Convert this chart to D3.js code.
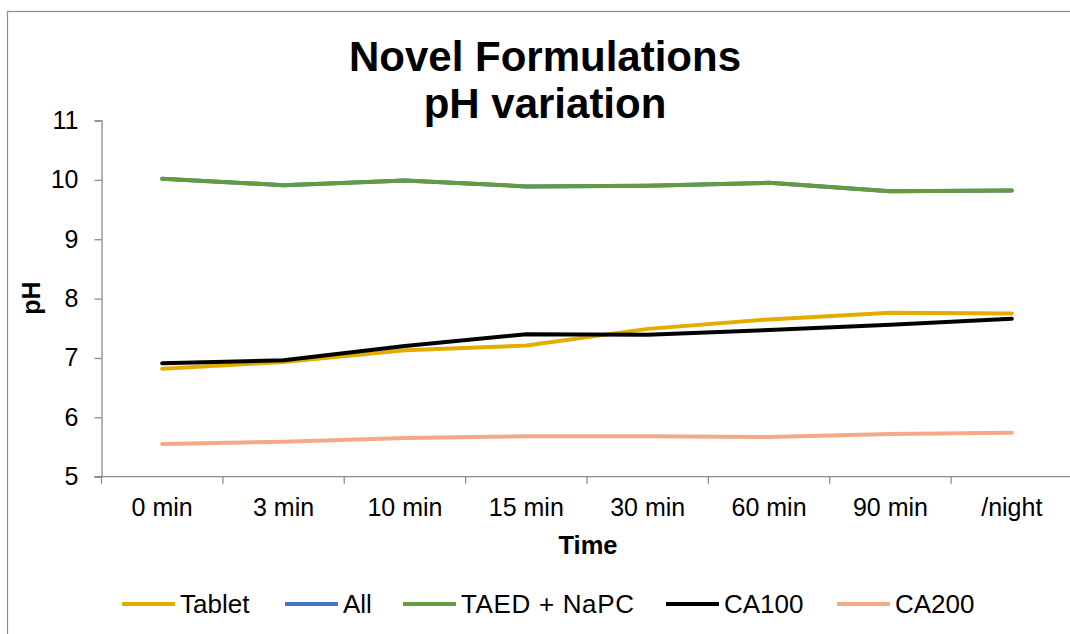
<!DOCTYPE html>
<html>
<head>
<meta charset="utf-8">
<script src="https://cdn.jsdelivr.net/npm/d3@7"></script>
<style>
  html, body { margin: 0; padding: 0; background: #fff; }
  svg { display: block; font-family: Arial, "Liberation Sans", sans-serif; }
</style>
</head>
<body>
<svg id="chart" width="1070" height="634"></svg>
<script>
// Sampling times
const categories = ["0 min", "3 min", "10 min", "15 min", "30 min", "60 min", "90 min", "/night"];

// pH readings per formulation
const tablet  = [6.82, 6.93, 7.13, 7.21, 7.49, 7.65, 7.76, 7.75];
const all     = [10.02, 9.91, 9.99, 9.89, 9.90, 9.95, 9.81, 9.82];
const taedNapc = [10.02, 9.91, 9.99, 9.89, 9.90, 9.95, 9.81, 9.82];
const ca100   = [6.91, 6.96, 7.20, 7.40, 7.39, 7.47, 7.56, 7.66];
const ca200   = [5.55, 5.59, 5.65, 5.68, 5.68, 5.67, 5.72, 5.74];

const seriesNames = ["Tablet", "All", "TAED + NaPC", "CA100", "CA200"];
const seriesValues = [tablet, all, taedNapc, ca100, ca200];
const seriesColors = ["#E5AC00", "#4472C4", "#639C3F", "#000000", "#F3A98A"];

const yTicks = [5, 6, 7, 8, 9, 10, 11];

const svg = d3.select("#chart");
const axisColor = "#8c8c8c";

// Outer chart frame
svg.append("rect")
  .attr("x", 7.5).attr("y", 11.5)
  .attr("width", 1090).attr("height", 650)
  .attr("fill", "none").attr("stroke", "#8c8c8c").attr("stroke-width", 1.2);

const plot = { left: 101.5, right: 1072.5, top: 120.5, bottom: 476.7 };

const x = d3.scaleBand().domain(categories).range([plot.left, plot.right]).padding(0);
const y = d3.scaleLinear().domain([5, 11]).range([plot.bottom, plot.top]);

// Title
const title = svg.append("text")
  .attr("x", 545).attr("text-anchor", "middle")
  .attr("font-weight", "bold").attr("font-size", 42).attr("fill", "#000");
title.append("tspan").attr("x", 545).attr("y", 71).text("Novel Formulations");
title.append("tspan").attr("x", 545).attr("y", 118).text("pH variation");

// Y axis
const yAxis = svg.append("g")
  .attr("transform", `translate(${plot.left},0)`)
  .call(d3.axisLeft(y).tickValues(yTicks).tickSize(7).tickPadding(16).tickFormat(d3.format("d")));
yAxis.select(".domain").attr("stroke", axisColor).attr("stroke-width", 1.3);
yAxis.selectAll(".tick line").attr("stroke", axisColor).attr("stroke-width", 1.3);
yAxis.selectAll(".tick text").attr("font-size", 25).attr("fill", "#000")
  .attr("font-family", "Arial, 'Liberation Sans', sans-serif");

// X axis with ticks on category boundaries
const xAxisG = svg.append("g").attr("transform", `translate(0,${plot.bottom})`);
xAxisG.append("line")
  .attr("x1", plot.left - 7).attr("x2", 1070)
  .attr("stroke", axisColor).attr("stroke-width", 1.3);
const boundaries = categories.map(c => x(c)).concat([x(categories[categories.length - 1]) + x.bandwidth()]);
xAxisG.selectAll("line.tick").data(boundaries).enter().append("line")
  .attr("class", "tick")
  .attr("x1", d => d).attr("x2", d => d)
  .attr("y1", 0).attr("y2", 7)
  .attr("stroke", axisColor).attr("stroke-width", 1.3);
xAxisG.selectAll("text.lbl").data(categories).enter().append("text")
  .attr("class", "lbl")
  .attr("x", d => x(d) + x.bandwidth() / 2)
  .attr("y", 39)
  .attr("text-anchor", "middle")
  .attr("font-size", 25).attr("fill", "#000")
  .text(d => d);

// Axis titles
svg.append("text")
  .attr("x", 588).attr("y", 554)
  .attr("text-anchor", "middle")
  .attr("font-weight", "bold").attr("font-size", 25.5)
  .text("Time");
svg.append("text")
  .attr("transform", "translate(40,298) rotate(-90)")
  .attr("text-anchor", "middle")
  .attr("font-weight", "bold").attr("font-size", 25)
  .text("pH");

// Series lines
const line = d3.line()
  .x((d, i) => x(categories[i]) + x.bandwidth() / 2)
  .y(d => y(d));

svg.append("g").selectAll("path")
  .data(seriesValues)
  .enter().append("path")
  .attr("d", d => line(d))
  .attr("fill", "none")
  .attr("stroke", (d, i) => seriesColors[i])
  .attr("stroke-width", 4)
  .attr("stroke-linecap", "round")
  .attr("stroke-linejoin", "round");

// Legend
const legendStarts = [122, 285, 403, 666, 837];
const legend = svg.append("g");
seriesNames.forEach((name, i) => {
  const lx = legendStarts[i];
  legend.append("line")
    .attr("x1", lx).attr("x2", lx + 53)
    .attr("y1", 604).attr("y2", 604)
    .attr("stroke", seriesColors[i]).attr("stroke-width", 4);
  legend.append("text")
    .attr("x", lx + 58).attr("y", 613)
    .attr("font-size", 26).attr("fill", "#000")
    .attr("textLength", name === "TAED + NaPC" ? 173 : null)
    .text(name);
});
</script>
</body>
</html>
